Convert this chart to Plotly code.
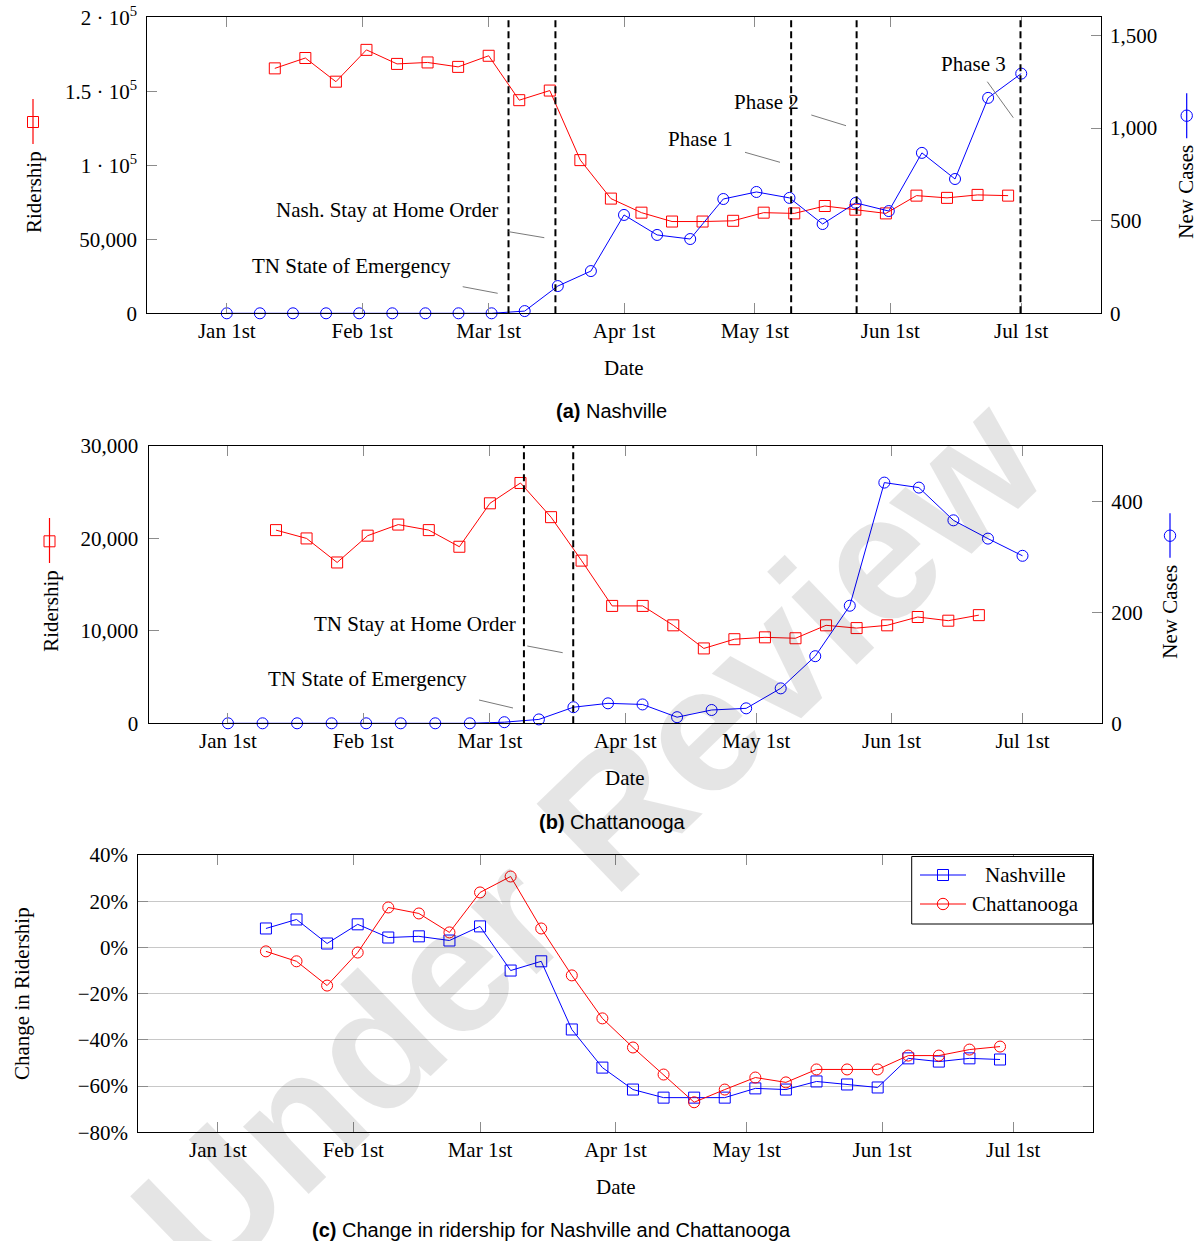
import pandas as pd
import plotly.graph_objects as go

W, H = 1199, 1241
def px(x): return x / W
def py(y): return 1 - y / H

SERIF = "Liberation Serif"
SANS = "Liberation Sans"
RED = "#ff0000"
BLUE = "#0000ff"

# ---------------- data ----------------
nash_ride_dates = pd.date_range("2020-01-12", "2020-06-28", freq="7D")
nash_ridership = [165500, 172500, 156500, 178000, 168500, 169500, 166500, 174000,
                  144000, 150500, 103500, 77500, 68000, 62000, 62000, 62500,
                  68000, 67500, 72500, 70000, 67500, 79500, 78000, 80000, 79500]
nash_case_dates = pd.date_range("2020-01-01", "2020-07-01", periods=25)
nash_cases = [0, 0, 0, 0, 0, 0, 0, 0, 0, 12, 147, 228, 531, 423, 401, 617, 655,
              623, 482, 596, 552, 866, 725, 1163, 1294]

chat_ride_dates = pd.date_range("2020-01-12", "2020-06-21", freq="7D")
chat_ridership = [20900, 20000, 17400, 20300, 21500, 20900, 19100, 23800, 26000,
                  22300, 17600, 12700, 12700, 10600, 8100, 9100, 9300, 9200,
                  10600, 10300, 10600, 11500, 11100, 11700]
chat_case_dates = pd.date_range("2020-01-01", "2020-07-01", periods=24)
chat_cases = [0, 0, 0, 0, 0, 0, 0, 0, 2, 7, 29, 36, 34, 11, 24, 27, 63, 121, 212,
              434, 425, 366, 333, 302]

change_dates = pd.date_range("2020-01-12", "2020-06-28", freq="7D")
nash_change = [8.2, 12.1, 1.7, 10.0, 4.3, 4.8, 3.0, 9.1, -10.0, -6.0, -35.5, -52.0,
               -61.5, -65.0, -65.0, -65.0, -61.0, -61.5, -58.0, -59.3, -60.6, -48.0,
               -49.4, -48.0, -48.5]
chat_change = [-1.7, -6.0, -16.5, -2.2, 17.3, 14.7, 6.5, 23.8, 30.7, 8.2, -12.1,
               -30.7, -43.3, -55.0, -67.0, -61.5, -56.3, -58.4, -52.8, -52.8, -52.8,
               -46.8, -46.8, -44.2, -42.9]

nash_events = ["2020-03-05 13:00", "2020-03-16 07:00", "2020-05-09 07:00",
               "2020-05-24 07:00", "2020-06-30 20:00"]
chat_events = ["2020-03-08 19:00", "2020-03-20 02:00"]

month_ticks = pd.date_range("2020-01-01", "2020-07-01", freq="MS")
month_labels = ["Jan 1st", "Feb 1st", "Mar 1st", "Apr 1st", "May 1st", "Jun 1st", "Jul 1st"]
x_range = ["2019-12-13 19:00", "2020-07-19 05:00"]

nash_ride_ticks = [0, 50000, 100000, 150000, 200000]
nash_ride_text = ["0", "50,000", "1 · 10<sup>5</sup>", "1.5 · 10<sup>5</sup>", "2 · 10<sup>5</sup>"]
nash_case_ticks = [0, 500, 1000, 1500]
nash_case_text = ["0", "500", "1,000", "1,500"]
chat_ride_ticks = [0, 10000, 20000, 30000]
chat_ride_text = ["0", "10,000", "20,000", "30,000"]
chat_case_ticks = [0, 200, 400]
chat_case_text = ["0", "200", "400"]
change_ticks = [-80, -60, -40, -20, 0, 20, 40]
change_text = ["\u221280%", "\u221260%", "\u221240%", "\u221220%", "0%", "20%", "40%"]

legend_names = ["Nashville", "Chattanooga"]

# ---------------- figure ----------------
fig = go.Figure()

def line_trace(x, y, color, symbol, xa, ya):
    return go.Scatter(x=x, y=y, mode="lines+markers", showlegend=False,
                      xaxis=xa, yaxis=ya, cliponaxis=False,
                      line=dict(color=color, width=1),
                      marker=dict(symbol=symbol, size=11, color=color,
                                  line=dict(color=color, width=1)))

fig.add_trace(line_trace(nash_case_dates, nash_cases, BLUE, "circle-open", "x", "y2"))
fig.add_trace(line_trace(nash_ride_dates, nash_ridership, RED, "square-open", "x", "y"))
fig.add_trace(line_trace(chat_case_dates, chat_cases, BLUE, "circle-open", "x2", "y4"))
fig.add_trace(line_trace(chat_ride_dates, chat_ridership, RED, "square-open", "x2", "y3"))
fig.add_trace(line_trace(change_dates, nash_change, BLUE, "square-open", "x3", "y5"))
fig.add_trace(line_trace(change_dates, chat_change, RED, "circle-open", "x3", "y5"))

tickfont = dict(family=SERIF, size=21, color="black")

def xaxis(domain, anchor):
    return dict(domain=domain, anchor=anchor, type="date", range=x_range,
                tickvals=month_ticks, ticktext=month_labels, ticks="inside",
                ticklen=10, tickcolor="#8c8c8c", showline=True, linecolor="black",
                linewidth=1, mirror="ticks", showgrid=False, zeroline=False,
                tickfont=tickfont, ticklabelstandoff=-2, automargin=False)

def yaxis(domain, anchor, rng, tv, tt, side="left", overlaying=None, grid=False, mirror=False):
    d = dict(domain=domain, anchor=anchor, range=rng, tickvals=tv, ticktext=tt,
             ticks="inside", ticklen=10, tickcolor="#8c8c8c", showline=True,
             linecolor="black", linewidth=1, side=side, showgrid=grid,
             gridcolor="#c8c8c8", gridwidth=1, zeroline=False, tickfont=tickfont,
             ticklabelstandoff=(5 if side == "left" else 4), mirror=mirror,
             automargin=False)
    if overlaying:
        d["overlaying"] = overlaying
    return d

dom_a_x = [px(147.3), px(1100.7)]
dom_a_y = [py(313.3), py(17.3)]
dom_b_x = [px(148.5), px(1102)]
dom_b_y = [py(723.3), py(446)]
dom_c_x = [px(138.3), px(1092.7)]
dom_c_y = [py(1132.3), py(855)]

fig.update_layout(
    width=W, height=H, margin=dict(l=0, r=0, t=0, b=0, pad=0, autoexpand=False),
    paper_bgcolor="white", plot_bgcolor="white", showlegend=False,
    font=dict(family=SERIF, size=21, color="black"),
    xaxis=xaxis(dom_a_x, "y"),
    yaxis=yaxis(dom_a_y, "x", [0, 200000], nash_ride_ticks, nash_ride_text),
    yaxis2=yaxis(dom_a_y, "x", [0, 1598], nash_case_ticks, nash_case_text, side="right", overlaying="y"),
    xaxis2=xaxis(dom_b_x, "y3"),
    yaxis3=yaxis(dom_b_y, "x2", [0, 30000], chat_ride_ticks, chat_ride_text),
    yaxis4=yaxis(dom_b_y, "x2", [0, 500], chat_case_ticks, chat_case_text, side="right", overlaying="y3"),
    xaxis3=xaxis(dom_c_x, "y5"),
    yaxis5=yaxis(dom_c_y, "x3", [-80, 40], change_ticks, change_text, grid=True, mirror="ticks"),
)

shapes = []
# event dashed lines
for d in nash_events:
    shapes.append(dict(type="line", xref="x", yref="y domain", x0=d, x1=d, y0=0, y1=1,
                       line=dict(color="black", width=2, dash="7px,4px")))
for d in chat_events:
    shapes.append(dict(type="line", xref="x2", yref="y3 domain", x0=d, x1=d, y0=0, y1=1,
                       line=dict(color="black", width=2, dash="7px,4px")))

# annotation callout lines (pixel positions)
callouts = [((462.7, 286.7), (497.7, 293.3)), ((508.7, 231.7), (544.3, 237.7)),
            ((745, 152.3), (780, 162.3)), ((811.3, 115), (846, 125.7)),
            ((987.3, 81.7), (1013.3, 117.7)),
            ((527.3, 646), (562.7, 652.7)), ((479, 700), (513, 708))]
for (a, b) in callouts:
    shapes.append(dict(type="line", xref="paper", yref="paper",
                       x0=px(a[0]), y0=py(a[1]), x1=px(b[0]), y1=py(b[1]),
                       line=dict(color="#7a7a7a", width=1)))

# legend glyph helpers
def glyph_vline(cx, y0, y1, color):
    shapes.append(dict(type="line", xref="paper", yref="paper", x0=px(cx), x1=px(cx),
                       y0=py(y0), y1=py(y1), line=dict(color=color, width=1.2)))

def glyph_hline(x0, x1, cy, color):
    shapes.append(dict(type="line", xref="paper", yref="paper", x0=px(x0), x1=px(x1),
                       y0=py(cy), y1=py(cy), line=dict(color=color, width=1.2)))

def glyph_square(cx, cy, color, s=5.5):
    shapes.append(dict(type="rect", xref="paper", yref="paper", x0=px(cx - s), x1=px(cx + s),
                       y0=py(cy + s), y1=py(cy - s), line=dict(color=color, width=1),
                       fillcolor="rgba(0,0,0,0)"))

def glyph_circle(cx, cy, color, r=5.7):
    shapes.append(dict(type="circle", xref="paper", yref="paper", x0=px(cx - r), x1=px(cx + r),
                       y0=py(cy + r), y1=py(cy - r), line=dict(color=color, width=1),
                       fillcolor="rgba(0,0,0,0)"))

glyph_vline(33, 99, 144, RED); glyph_square(33, 122, RED)
glyph_vline(1186.7, 93.3, 138.3, BLUE); glyph_circle(1186.7, 115.7, BLUE)
glyph_vline(49.5, 518, 563, RED); glyph_square(49.5, 541.3, RED)
glyph_vline(1170, 513.3, 557.7, BLUE); glyph_circle(1170, 535.7, BLUE)

# panel (c) legend box
shapes.append(dict(type="rect", xref="paper", yref="paper", x0=px(911.7), x1=px(1092.7),
                   y0=py(924), y1=py(856.5), line=dict(color="black", width=1),
                   fillcolor="white"))
glyph_hline(920, 966, 875, BLUE); glyph_square(943, 875, BLUE)
glyph_hline(920, 966, 904, RED); glyph_circle(943, 904, RED)

fig.update_layout(shapes=shapes)

ann = []
def text(x, y, t, size=21, angle=0, family=SERIF):
    ann.append(dict(x=px(x), y=py(y), xref="paper", yref="paper", text=t, showarrow=False,
                    textangle=angle, xanchor="center", yanchor="middle",
                    font=dict(family=family, size=size, color="black")))

# watermark (first, so other texts sit on top)
ann.append(dict(x=px(588), y=py(838), xref="paper", yref="paper", text="<b>Under Review</b>",
                showarrow=False, textangle=-44, xanchor="center", yanchor="middle",
                font=dict(family=SANS, size=178, color="rgba(0,0,0,0.10)")))

# event labels
text(351, 266, "TN State of Emergency", 21)
text(387, 210, "Nash. Stay at Home Order", 21)
text(700, 139, "Phase 1", 21)
text(766.5, 102, "Phase 2", 21)
text(973.3, 64, "Phase 3", 21)
text(414.5, 624, "TN Stay at Home Order", 21)
text(367, 679, "TN State of Emergency", 21)

# axis titles
text(33.3, 191.7, "Ridership", 21, -90)
text(1186, 191.7, "New Cases", 21, -90)
text(50.8, 611, "Ridership", 21, -90)
text(1169.2, 611.5, "New Cases", 21, -90)
text(22, 994, "Change in Ridership", 21, -90)
text(624, 368, "Date")
text(625, 778, "Date")
text(615.5, 1187, "Date")

# legend labels
text(1025, 875, legend_names[0])
text(1025, 904, legend_names[1])

# captions
text(611.7, 411, "<b>(a)</b> Nashville", 20, family=SANS)
text(612, 822, "<b>(b)</b> Chattanooga", 20, family=SANS)
text(551.5, 1230, "<b>(c)</b> Change in ridership for Nashville and Chattanooga", 20, family=SANS)

fig.update_layout(annotations=ann)
fig.write_html("out.html", config={"displayModeBar": False},
               post_script="document.body.style.margin='0';document.body.style.overflow='hidden';")
